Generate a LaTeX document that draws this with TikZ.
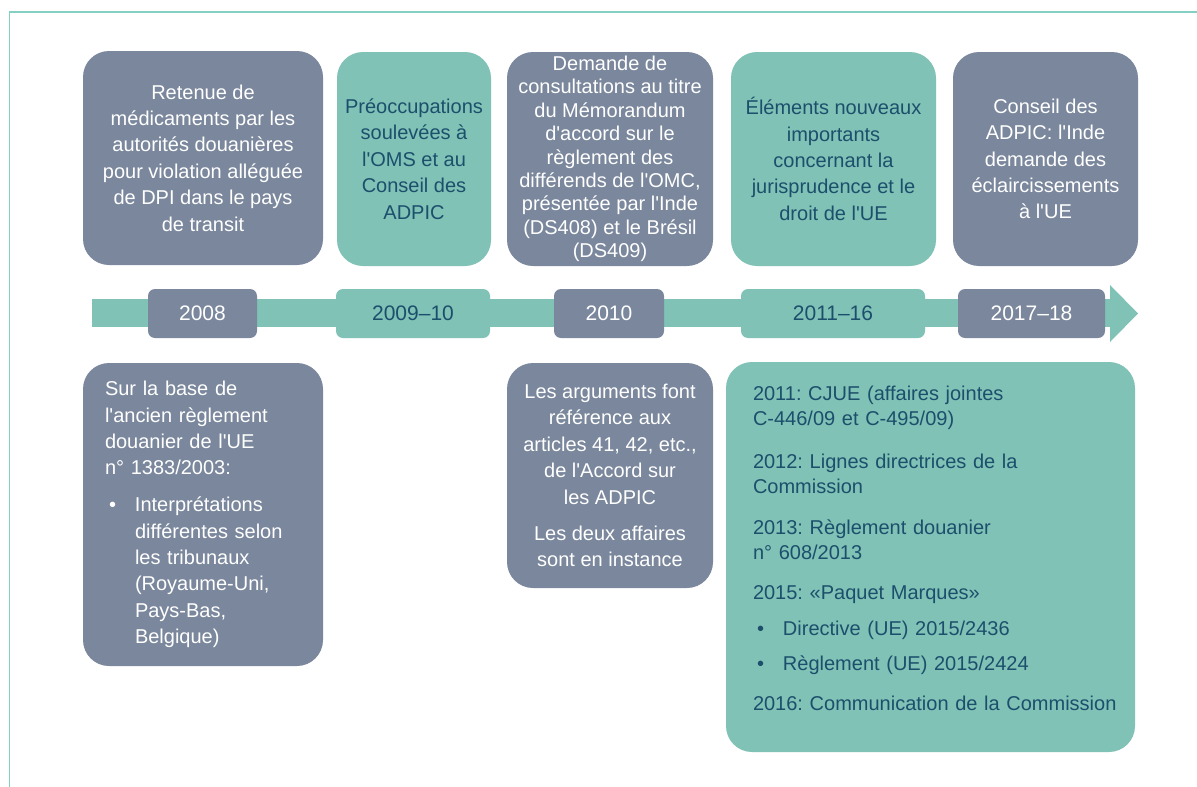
\documentclass[tikz,border=0pt]{standalone}
\usepackage{fontspec}
\setmainfont{Liberation Sans}[Ligatures=TeXOff]
\definecolor{greyc}{HTML}{7A879C}
\definecolor{tealc}{HTML}{80C2B6}
\definecolor{navy}{HTML}{1C4F6C}
\definecolor{framec}{HTML}{86CFC3}
\newcommand\bul{\makebox[30pt][l]{\hspace{4pt}•}}
\newcommand\ind{\hspace*{30pt}}
\frenchspacing
\begin{document}
\frenchspacing
\begin{tikzpicture}[x=1pt,y=-1pt,
  bigbox/.style={rectangle, rounded corners=26pt, inner sep=0pt, align=center,
    font=\fontsize{20}{26.4}\selectfont\frenchspacing},
  yearbox/.style={rectangle, rounded corners=7pt, inner sep=0pt, minimum height=49pt,
    font=\fontsize{21}{25}\selectfont},
  greyb/.style={fill=greyc, text=white},
  tealb/.style={fill=tealc, text=navy},
  txt/.style={inner sep=0pt, align=left, font=\fontsize{20}{25}\selectfont\frenchspacing}]
\useasboundingbox (0,0) rectangle (1197,787);
% frame
\draw[framec, line width=1.5pt] (1197,12) -- (9.5,12) -- (9.5,787);
% band and arrow
\fill[tealc] (92,299) rectangle (1111,327);
\fill[tealc] (1110,285) -- (1138,313.5) -- (1110,342) -- cycle;
% top boxes
\node[bigbox, greyb, minimum width=240pt, minimum height=214pt] (t1) at (203,158)
  {Retenue de\\médicaments par les\\autorités douanières\\pour violation alléguée\\de DPI dans le pays\\de transit};
\node[bigbox, tealb, minimum width=154pt, minimum height=214pt] (t2) at (414,159)
  {Préoccupations\\soulevées à\\l'OMS et au\\Conseil des\\ADPIC};
\node[bigbox, greyb, minimum width=206pt, minimum height=214pt, font=\fontsize{20}{23.4}\selectfont] (t3) at (610,159)
  {Demande de\\consultations au titre\\du Mémorandum\\d'accord sur le\\règlement des\\différends de l'OMC,\\présentée par l'Inde\\(DS408) et le Brésil\\(DS409)};
\node[bigbox, tealb, minimum width=205pt, minimum height=214pt] (t4) at (833.5,159)
  {Éléments nouveaux\\importants\\concernant la\\jurisprudence et le\\droit de l'UE};
\node[bigbox, greyb, minimum width=185pt, minimum height=214pt] (t5) at (1045.5,159)
  {Conseil des\\ADPIC: l'Inde\\demande des\\éclaircissements\\à l'UE};
% year boxes
\node[yearbox, greyb, minimum width=109pt] (y1) at (202.5,313.5) {2008};
\node[yearbox, tealb, minimum width=154pt] (y2) at (413,313.5) {2009–10};
\node[yearbox, greyb, minimum width=110pt] (y3) at (609,313.5) {2010};
\node[yearbox, tealb, minimum width=184pt] (y4) at (833,313.5) {2011–16};
\node[yearbox, greyb, minimum width=147pt] (y5) at (1031.5,313.5) {2017–18};
% bottom boxes
\node[bigbox, greyb, minimum width=240pt, minimum height=303pt, text width=196pt, align=left] (b1) at (203,514.5)
  {Sur la base de\\l'ancien règlement\\douanier de l'UE\\n° 1383/2003:\\[10.5pt]
   \bul Interprétations\\\ind différentes selon\\\ind les tribunaux\\\ind (Royaume-Uni,\\\ind Pays-Bas,\\\ind Belgique)};
\node[bigbox, greyb, minimum width=206pt, minimum height=225pt] (b2) at (610,475.5)
  {Les arguments font\\référence aux\\articles 41, 42, etc.,\\de l'Accord sur\\les ADPIC\\[10pt]Les deux affaires\\sont en instance};
\node[bigbox, tealb, minimum width=409pt, minimum height=390pt] (b3) at (930.5,557) {};
\node[txt, text=navy, text width=380pt] (b3t) at (943,548)
  {2011: CJUE (affaires jointes\\C-446/09 et C-495/09)\\[18pt]
   2012: Lignes directrices de la\\Commission\\[16pt]
   2013: Règlement douanier\\n° 608/2013\\[15pt]
   2015: «Paquet Marques»\\[11pt]
   \bul Directive (UE) 2015/2436\\[10pt]
   \bul Règlement (UE) 2015/2424\\[15pt]
   2016: Communication de la Commission};
\end{tikzpicture}
\end{document}
